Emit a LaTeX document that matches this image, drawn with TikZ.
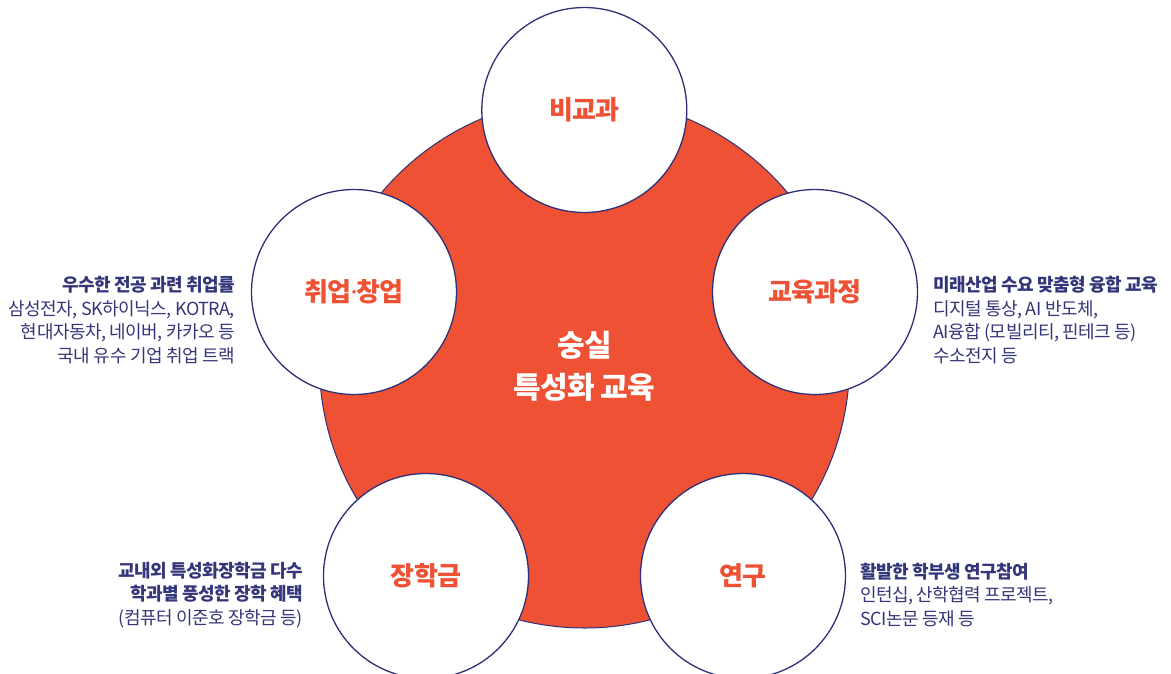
\documentclass[tikz,border=0pt]{standalone}
\usepackage{fontspec}
\newfontfamily\kr[LetterSpace=-3]{Noto Sans CJK KR}
\newfontfamily\dotfont{Noto Sans}
\definecolor{coral}{HTML}{EE5134}
\definecolor{navy}{HTML}{2E3078}
\definecolor{ink}{HTML}{34367A}
\tikzset{
  core/.style={circle, fill=coral, draw=navy, line width=1pt, minimum size=530pt, inner sep=0pt},
  petal/.style={circle, fill=white, draw=navy, line width=1.3pt, minimum size=205pt, inner sep=0pt,
    text=coral, font={\kr\fontsize{26}{30}\selectfont\bfseries}},
  coretext/.style={text=white, align=center, font={\kr\fontsize{30}{42}\selectfont\bfseries}},
  desc/.style={text=ink, inner sep=0pt, font={\kr\fontsize{18}{23.7}\selectfont}}
}
\begin{document}
\begin{tikzpicture}[x=1pt,y=-1pt]
\useasboundingbox (0,0) rectangle (1171,673);
\node[core] (core) at (584.5,363) {};
\node[coretext] (coreLabel) at (584.5,366) {숭실\\특성화 교육};
\node[petal] (top) at (584.3,110) {비교과};
\node[petal] (left) at (354,292) {취업{\dotfont\bfseries\kern-1pt·\kern-1pt}창업};
\node[petal] (right) at (815,292) {교육과정};
\node[petal] (bl) at (426,576) {장학금};
\node[petal] (br) at (743,576) {연구};
\node[desc, anchor=east, align=right] (tL) at (235,320)
  {\textbf{우수한 전공 과련 취업률}\\삼성전자, SK하이닉스, KOTRA,\\현대자동차, 네이버, 카카오 등\\국내 유수 기업 취업 트랙};
\node[desc, anchor=west, align=left] (tR) at (933,320)
  {\textbf{미래산업 수요 맞춤형 융합 교육}\\디지털 통상, AI 반도체,\\AI융합 (모빌리티, 핀테크 등)\\수소전지 등};
\node[desc, anchor=east, align=right] (tBL) at (303,595)
  {\textbf{교내외 특성화장학금 다수}\\\textbf{학과별 풍성한 장학 혜택}\\(컴퓨터 이준호 장학금 등)};
\node[desc, anchor=west, align=left] (tBR) at (860,595)
  {\textbf{활발한 학부생 연구참여}\\인턴십, 산학협력 프로젝트,\\SCI논문 등재 등};
\end{tikzpicture}
\end{document}
